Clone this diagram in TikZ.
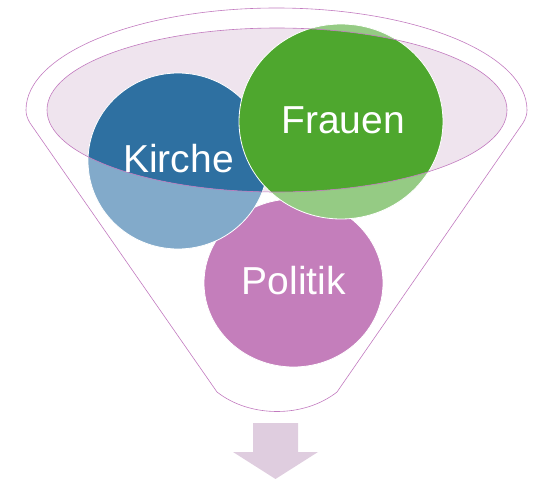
\documentclass[tikz,border=0pt]{standalone}
\usepackage{fontspec}
\setmainfont{Liberation Sans}
\definecolor{kircheblue}{HTML}{2E70A1}
\definecolor{kirchelight}{HTML}{82AACA}
\definecolor{frauengreen}{HTML}{4EA72E}
\definecolor{frauenlight}{HTML}{95CB84}
\definecolor{politikpink}{HTML}{C47EBB}
\definecolor{funnelfill}{HTML}{EFE4EE}
\definecolor{funnelline}{HTML}{C27ABF}
\definecolor{arrowfill}{HTML}{DFCDDF}

\begin{document}
\begin{tikzpicture}[x=1pt,y=-1pt,
  rim/.style={draw=funnelline, line width=0.6pt},
  bubble/.style={draw=white, line width=0.8pt},
  word/.style={text=white, font=\fontsize{39}{39}\selectfont, anchor=base, inner sep=0pt}]
\useasboundingbox (0,0) rectangle (536,479);
% funnel
\draw[rim] (217,392) -- (30,123) .. controls (27,118) and (26,114) .. (26,110)
  arc[start angle=180, end angle=360, x radius=250.5, y radius=102]
  .. controls (527,114) and (526,118) .. (523,123) -- (337,392)
  .. controls (304,418) and (250,418) .. (217,392) -- cycle;
% circles
\fill[politikpink, bubble] (293.5,283) ellipse [x radius=89.5, y radius=84];
\fill[kirchelight, bubble] (178,161) ellipse [x radius=90, y radius=88];
\fill[frauenlight, bubble] (341,121.5) ellipse [x radius=102, y radius=97.5];
\fill[funnelfill] (277,110) ellipse [x radius=230, y radius=82];
\begin{scope}
\clip (277,110) ellipse [x radius=230, y radius=82];
\fill[kircheblue, bubble] (178,161) ellipse [x radius=90, y radius=88];
\fill[frauengreen, bubble] (341,121.5) ellipse [x radius=102, y radius=97.5];
\end{scope}
\draw[rim] (277,110) ellipse [x radius=230, y radius=82];
\node[word] (kirche) at (178.5,172) {Kirche};
\node[word] (frauen) at (343,133) {Frauen};
\node[word] (politik) at (294,294) {Politik};
% arrow
\fill[arrowfill] (253,423) -- (298,423) -- (298,452) -- (318,452) -- (275.5,479)
  -- (233,452) -- (253,452) -- cycle;
\end{tikzpicture}
\end{document}
